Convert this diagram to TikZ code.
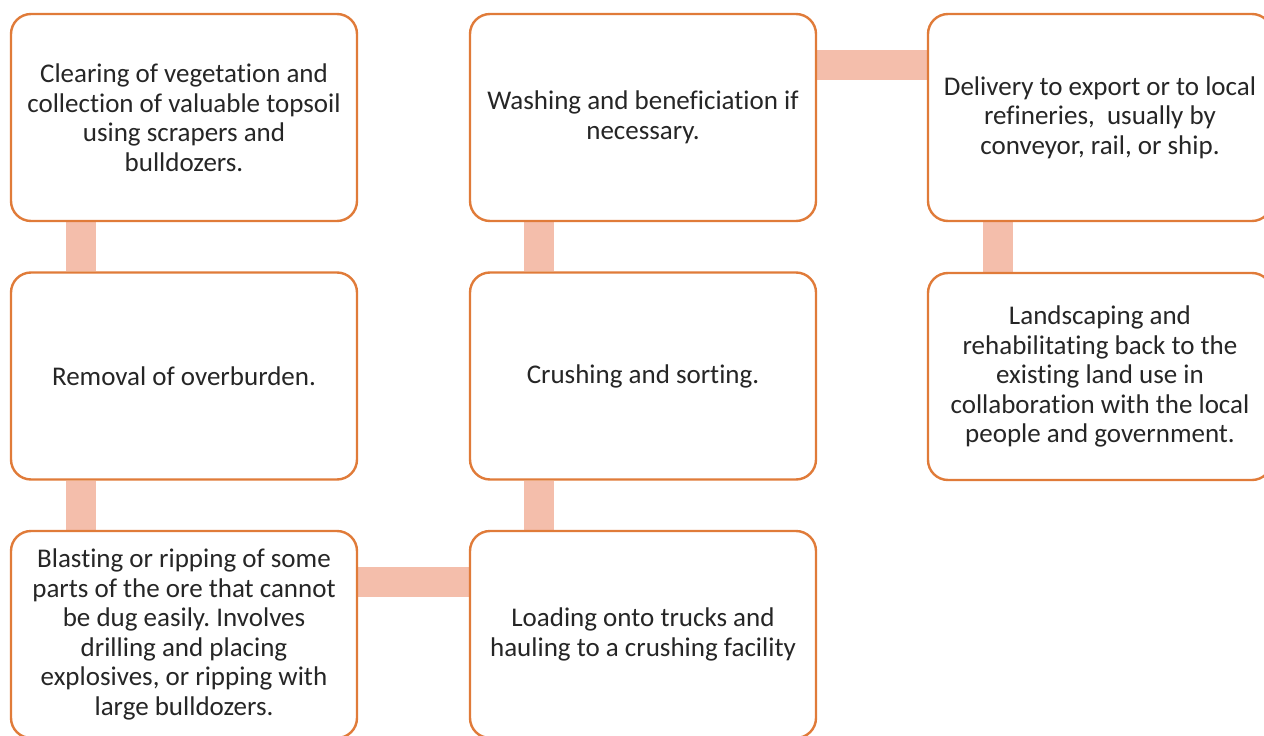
\documentclass[tikz,border=0pt]{standalone}
\usepackage{fontspec}
\setmainfont[Ligatures=NoCommon]{Carlito}
\usetikzlibrary{backgrounds}
\definecolor{boxline}{HTML}{E07B39}
\definecolor{barcol}{HTML}{F4BEAB}
\definecolor{txt}{HTML}{262626}
\frenchspacing
\tikzset{
  stepbox/.style={draw=boxline, line width=2.4pt, fill=white, rounded corners=20pt,
    minimum width=346pt, minimum height=207pt, align=center, text=txt,
    font=\fontsize{27}{29.5}\selectfont, inner sep=0pt},
  bar/.style={draw=barcol, line width=30pt, line cap=butt}
}
\begin{document}
\begin{tikzpicture}[x=1pt,y=-1pt]
\useasboundingbox (0,0) rectangle (1264,736);
\node[stepbox] (b1) at (184,117.5) {Clearing of vegetation and\\collection of valuable topsoil\\using scrapers and\\bulldozers.};
\node[stepbox] (b2) at (184,376) {Removal of overburden.};
\node[stepbox] (b3) at (184,634.5) {Blasting or ripping of some\\parts of the ore that cannot\\be dug easily. Involves\\drilling and placing\\explosives, or ripping with\\large bulldozers.};
\node[stepbox] (b4) at (643,634.5) {Loading onto trucks and\\hauling to a crushing facility};
\node[stepbox] (b5) at (643,376) {Crushing and sorting.};
\node[stepbox] (b6) at (643,117.5) {Washing and beneficiation if\\necessary.};
\node[stepbox, minimum width=344pt] (b7) at (1100,117.5) {Delivery to export or to local\\refineries,\ \ usually by\\conveyor, rail, or ship.};
\node[stepbox, minimum width=344pt] (b8) at (1100,376.5) {Landscaping and\\rehabilitating back to the\\existing land use in\\collaboration with the local\\people and government.};
\begin{scope}[on background layer]
\draw[bar] ([xshift=71pt]b1.south west) -- ([xshift=71pt]b2.north west);
\draw[bar] ([xshift=71pt]b2.south west) -- ([xshift=71pt]b3.north west);
\draw[bar] ([yshift=52.5pt]b3.east) -- ([yshift=52.5pt]b4.west);
\draw[bar] ([xshift=70pt]b4.north west) -- ([xshift=70pt]b5.south west);
\draw[bar] ([xshift=70pt]b5.north west) -- ([xshift=70pt]b6.south west);
\draw[bar] ([yshift=52.5pt]b6.east) -- ([yshift=52.5pt]b7.west);
\draw[bar] ([xshift=71pt]b7.south west) -- ([xshift=71pt]b8.north west);
\end{scope}
\end{tikzpicture}
\end{document}
